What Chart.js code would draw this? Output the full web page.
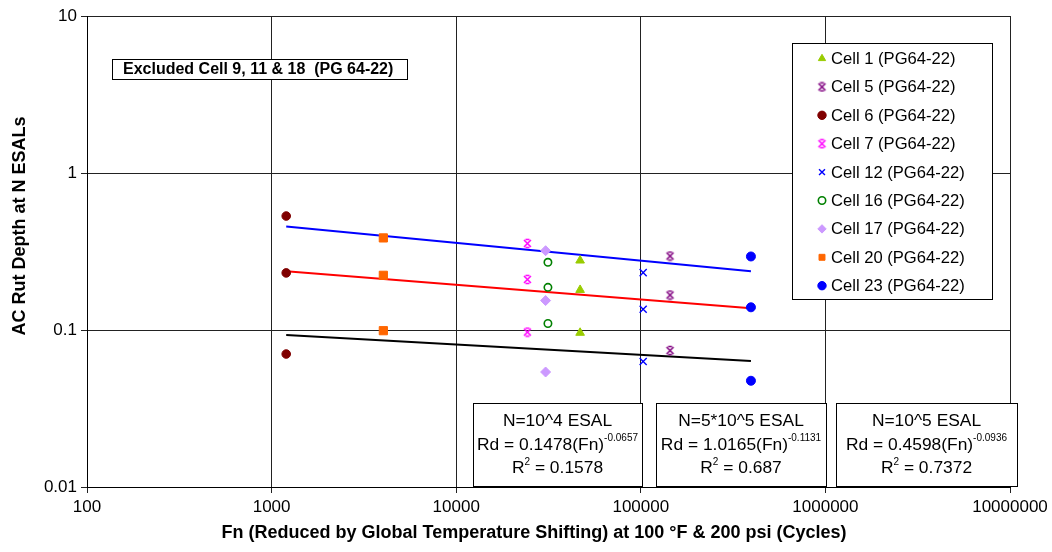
<!DOCTYPE html>
<html lang="en">
<head>
<meta charset="UTF-8">
<title>AC Rut Depth vs Fn</title>
<script src="https://cdn.jsdelivr.net/npm/chart.js@4.4.1/dist/chart.umd.min.js"></script>
<style>
  html, body { margin: 0; padding: 0; background: #fff; }
  #wrap { width: 1052px; height: 552px; }
</style>
</head>
<body>
<div id="wrap"><canvas id="rutChart" width="1052" height="552"></canvas></div>
<script>
// cells in legend order
const cellLabels = ['Cell 1 (PG64-22)', 'Cell 5 (PG64-22)', 'Cell 6 (PG64-22)', 'Cell 7 (PG64-22)',
  'Cell 12 (PG64-22)', 'Cell 16 (PG64-22)', 'Cell 17 (PG64-22)', 'Cell 20 (PG64-22)', 'Cell 23 (PG64-22)'];
const cellFn = [46900, 144000, 1200, 24300, 103000, 31400, 30500, 4030, 395000];
// rut depth at N = 5*10^5, 10^5 and 10^4 ESALs
const rdN5x5 = [0.277, 0.296, 0.532, 0.356, 0.232, 0.270, 0.320, 0.386, 0.294];
const rdN1e5 = [0.180, 0.167, 0.231, 0.210, 0.1355, 0.187, 0.154, 0.223, 0.1395];
const rdN1e4 = [0.096, 0.074, 0.0703, 0.097, 0.063, 0.110, 0.054, 0.099, 0.0475];

// fitted power lines (end points)
const trendFn = [1200, 395000];
const trendN5x5 = [0.456, 0.2366];
const trendN1e5 = [0.2368, 0.1376];
const trendN1e4 = [0.0928, 0.0634];

const xTicks = [100, 1000, 10000, 100000, 1000000, 10000000];
const yTicks = [0.01, 0.1, 1, 10];

const FONT = "'Liberation Sans', Arial, Helvetica, sans-serif";

// star marker (x with short caps) like the excel one
function starMarker(color) {
  const c = document.createElement('canvas');
  c.width = 11; c.height = 11;
  const g = c.getContext('2d');
  g.strokeStyle = color;
  g.lineWidth = 1.5;
  g.beginPath();
  g.moveTo(2, 2); g.lineTo(9, 9);
  g.moveTo(9, 2); g.lineTo(2, 9);
  g.moveTo(3.5, 1.5); g.lineTo(7.5, 1.5);
  g.moveTo(3.5, 9.5); g.lineTo(7.5, 9.5);
  g.stroke();
  return c;
}

const styles = [
  { pointStyle: 'triangle', backgroundColor: '#99cc00', borderColor: '#99cc00', radius: 5, borderWidth: 1 },
  { pointStyle: starMarker('#800080'), backgroundColor: '#800080', borderColor: '#800080', radius: 5, borderWidth: 0 },
  { pointStyle: 'circle', backgroundColor: '#800000', borderColor: '#800000', radius: 4.3, borderWidth: 1 },
  { pointStyle: starMarker('#ff00ff'), backgroundColor: '#ff00ff', borderColor: '#ff00ff', radius: 5, borderWidth: 0 },
  { pointStyle: 'crossRot', backgroundColor: '#0000ff', borderColor: '#0000ff', radius: 5, borderWidth: 1.4 },
  { pointStyle: 'circle', backgroundColor: 'rgba(255,255,255,0)', borderColor: '#008000', radius: 3.7, borderWidth: 1.6 },
  { pointStyle: 'rectRot', backgroundColor: '#cc99ff', borderColor: '#cc99ff', radius: 5, borderWidth: 1 },
  { pointStyle: 'rect', backgroundColor: '#ff6600', borderColor: '#ff6600', radius: 5.8, borderWidth: 1 },
  { pointStyle: 'circle', backgroundColor: '#0000ff', borderColor: '#0000ff', radius: 4.5, borderWidth: 1 }
];

const datasets = cellLabels.map((label, i) => ({
  label: label,
  type: 'scatter',
  data: [
    { x: cellFn[i], y: rdN5x5[i] },
    { x: cellFn[i], y: rdN1e5[i] },
    { x: cellFn[i], y: rdN1e4[i] }
  ],
  pointStyle: styles[i].pointStyle,
  pointRadius: styles[i].radius,
  pointHoverRadius: styles[i].radius,
  pointBackgroundColor: styles[i].backgroundColor,
  pointBorderColor: styles[i].borderColor,
  pointBorderWidth: styles[i].borderWidth,
  showLine: false,
  order: 1
}));

function trendSet(ys, color) {
  return {
    label: '',
    type: 'line',
    data: trendFn.map((x, i) => ({ x: x, y: ys[i] })),
    borderColor: color,
    borderWidth: 2,
    pointRadius: 0,
    fill: false,
    isTrend: true,
    order: 2
  };
}
datasets.push(trendSet(trendN5x5, '#0000ff'));
datasets.push(trendSet(trendN1e5, '#ff0000'));
datasets.push(trendSet(trendN1e4, '#000000'));

// text boxes drawn on top of the plot
const eqBoxes = [
  { x: 473, y: 403, w: 169, h: 83, title: 'N=10^4 ESAL', coef: '0.1478', exp: '-0.0657', r2: '0.1578' },
  { x: 656, y: 403, w: 170, h: 83, title: 'N=5*10^5 ESAL', coef: '1.0165', exp: '-0.1131', r2: '0.687' },
  { x: 836, y: 403, w: 181, h: 83, title: 'N=10^5 ESAL', coef: '0.4598', exp: '-0.0936', r2: '0.7372' }
];

const overlay = {
  id: 'overlay',
  afterDraw(chart) {
    const ctx = chart.ctx;
    ctx.save();
    ctx.textBaseline = 'middle';

    // axis titles
    ctx.fillStyle = '#000';
    ctx.font = 'bold 18px ' + FONT;
    ctx.textAlign = 'center';
    ctx.fillText('Fn (Reduced by Global Temperature Shifting) at 100 \u00B0F & 200 psi (Cycles)', 534, 533);
    ctx.save();
    ctx.translate(20, 226);
    ctx.rotate(-Math.PI / 2);
    ctx.fillText('AC Rut Depth at N ESALs', 0, 0);
    ctx.restore();

    // excluded note
    ctx.fillStyle = '#fff';
    ctx.fillRect(112, 59, 295, 20);
    ctx.strokeStyle = '#000';
    ctx.lineWidth = 1;
    ctx.strokeRect(112.5, 59.5, 295, 20);
    ctx.fillStyle = '#000';
    ctx.font = 'bold 16px ' + FONT;
    ctx.textAlign = 'left';
    ctx.fillText('Excluded Cell 9, 11 & 18  (PG 64-22)', 123, 70);

    // legend
    ctx.fillStyle = '#fff';
    ctx.fillRect(792, 43, 200, 256);
    ctx.strokeRect(792.5, 43.5, 200, 256);
    chart.data.datasets.forEach((ds, i) => {
      if (ds.isTrend) return;
      const y = 58.5 + i * 28.4;
      ctx.fillStyle = ds.pointBackgroundColor;
      ctx.strokeStyle = ds.pointBorderColor;
      ctx.lineWidth = ds.pointBorderWidth;
      const r = Math.min(ds.pointRadius, 4.2);
      Chart.helpers.drawPoint(ctx, {
        pointStyle: ds.pointStyle, rotation: 0, radius: r, borderWidth: ds.pointBorderWidth
      }, 822, y);
      ctx.fillStyle = '#000';
      ctx.font = '16.6px ' + FONT;
      ctx.textAlign = 'left';
      ctx.fillText(ds.label, 831, y + 1);
    });

    // equation boxes
    const big = '17.4px ' + FONT;
    const small = '10px ' + FONT;
    eqBoxes.forEach(b => {
      ctx.fillStyle = '#fff';
      ctx.fillRect(b.x, b.y, b.w, b.h);
      ctx.strokeStyle = '#000';
      ctx.lineWidth = 1;
      ctx.strokeRect(b.x + 0.5, b.y + 0.5, b.w, b.h);
      const cx = b.x + b.w / 2;
      ctx.fillStyle = '#000';
      ctx.textAlign = 'center';
      ctx.font = big;
      ctx.fillText(b.title, cx, b.y + 18);
      // Rd line with superscript exponent
      const base = 'Rd = ' + b.coef + '(Fn)';
      const wBase = ctx.measureText(base).width;
      ctx.font = small;
      const wExp = ctx.measureText(b.exp).width;
      let sx = cx - (wBase + wExp) / 2;
      ctx.textAlign = 'left';
      ctx.font = big;
      ctx.fillText(base, sx, b.y + 42);
      ctx.font = small;
      ctx.fillText(b.exp, sx + wBase, b.y + 35);
      // R^2 line
      ctx.font = big;
      const wR = ctx.measureText('R').width;
      const tail = ' = ' + b.r2;
      const wT = ctx.measureText(tail).width;
      ctx.font = small;
      const w2 = ctx.measureText('2').width;
      sx = cx - (wR + w2 + wT) / 2;
      ctx.font = big;
      ctx.fillText('R', sx, b.y + 65);
      ctx.fillText(tail, sx + wR + w2, b.y + 65);
      ctx.font = small;
      ctx.fillText('2', sx + wR, b.y + 59);
    });
    ctx.restore();
  }
};

const ctx = document.getElementById('rutChart').getContext('2d');
const chart = new Chart(ctx, {
  type: 'scatter',
  data: { datasets: datasets },
  options: {
    responsive: false,
    animation: false,
    events: [],
    layout: { padding: { left: 0, top: 16, right: 42, bottom: 0 } },
    plugins: {
      legend: { display: false },
      tooltip: { enabled: false }
    },
    scales: {
      x: {
        type: 'logarithmic',
        min: 100,
        max: 10000000,
        afterBuildTicks: s => { s.ticks = xTicks.map(v => ({ value: v })); },
        afterFit: s => { s.height = 65; },
        ticks: {
          color: '#000',
          font: { family: FONT, size: 17 },
          padding: 4,
          maxRotation: 0,
          callback: v => String(v)
        },
        grid: { color: '#222', lineWidth: 1, tickLength: 6, drawTicks: true },
        border: { color: '#000', width: 1 }
      },
      y: {
        type: 'logarithmic',
        min: 0.01,
        max: 10,
        afterBuildTicks: s => { s.ticks = yTicks.map(v => ({ value: v })); },
        afterFit: s => { s.width = 87; },
        ticks: {
          color: '#000',
          font: { family: FONT, size: 17 },
          padding: 4,
          callback: v => String(v)
        },
        grid: { color: '#222', lineWidth: 1, tickLength: 6, drawTicks: true },
        border: { color: '#000', width: 1 }
      }
    }
  },
  plugins: [overlay]
});
</script>
</body>
</html>
